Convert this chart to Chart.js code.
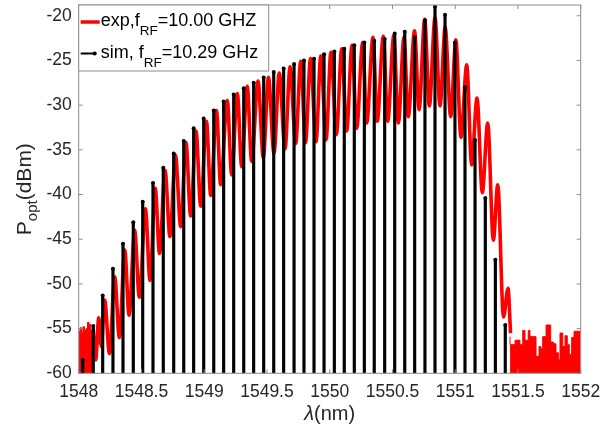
<!DOCTYPE html>
<html>
<head>
<meta charset="utf-8">
<script src="https://cdn.jsdelivr.net/npm/chart.js@4.4.1/dist/chart.umd.min.js"></script>
<style>
  html, body { margin: 0; padding: 0; background: #fff; }
  #wrap { width: 601px; height: 434px; }
</style>
</head>
<body>
<div id="wrap"><canvas id="combChart" width="601" height="434"></canvas></div>
<script>
// axis ranges and ticks
const X_MIN = 1548, X_MAX = 1552;
const Y_MIN = -60, Y_MAX = -18.8;
const xTicks = [1548, 1548.5, 1549, 1549.5, 1550, 1550.5, 1551, 1551.5, 1552];
const yTicks = [-60, -55, -50, -45, -40, -35, -30, -25, -20];

// simulated comb lines (sim, fRF = 10.29 GHz)
const simWl = [1548.032, 1548.116, 1548.191, 1548.273, 1548.353, 1548.435, 1548.510, 1548.592,
  1548.674, 1548.757, 1548.837, 1548.916, 1548.996, 1549.076, 1549.155, 1549.235, 1549.315,
  1549.394, 1549.474, 1549.554, 1549.633, 1549.716, 1549.795, 1549.875, 1549.955, 1550.037,
  1550.116, 1550.196, 1550.276, 1550.355, 1550.438, 1550.518, 1550.598, 1550.677, 1550.759,
  1550.839, 1550.919, 1550.998, 1551.078, 1551.158, 1551.240, 1551.320, 1551.399];
const simPow = [-58.5, -54.7, -51.3, -48.3, -45.5, -43.1, -40.8, -38.7, -37.0, -35.4, -34.0,
  -32.6, -31.5, -30.6, -29.6, -28.8, -28.1, -27.5, -26.9, -26.3, -25.9, -25.4, -25.0, -24.8,
  -24.3, -24.0, -23.7, -23.3, -23.0, -22.8, -22.6, -22.0, -21.8, -22.4, -20.5, -19.0, -19.9,
  -23.0, -28.0, -33.9, -40.4, -47.3, -54.6];

// measured spectrum (exp, fRF = 10.00 GHz), peaks and dips
const expWl = [1548.115, 1548.135, 1548.160, 1548.180,
  1548.207, 1548.245, 1548.287, 1548.324, 1548.367, 1548.401, 1548.446, 1548.483,
  1548.532, 1548.568, 1548.610, 1548.644, 1548.688, 1548.727, 1548.771, 1548.813,
  1548.855, 1548.892, 1548.935, 1548.972, 1549.018, 1549.052, 1549.098, 1549.131,
  1549.184, 1549.219, 1549.264, 1549.299, 1549.343, 1549.378, 1549.429, 1549.471,
  1549.512, 1549.556, 1549.598, 1549.644, 1549.684, 1549.729, 1549.769, 1549.807,
  1549.847, 1549.891, 1549.929, 1549.971, 1550.010, 1550.053, 1550.096, 1550.135,
  1550.178, 1550.215, 1550.263, 1550.295, 1550.345, 1550.379, 1550.427, 1550.462,
  1550.511, 1550.547, 1550.592, 1550.626, 1550.676, 1550.712, 1550.757, 1550.794,
  1550.839, 1550.879, 1550.920, 1550.964, 1551.005, 1551.046, 1551.092, 1551.131,
  1551.174, 1551.216, 1551.259, 1551.304, 1551.339, 1551.385, 1551.421, 1551.441];
const expPow = [-55.0, -58.5, -53.8, -57.0,
  -51.8, -57.8, -49.2, -56.0, -46.2, -53.5, -44.0, -51.5,
  -41.6, -49.6, -39.3, -46.6, -37.3, -44.7, -35.6, -43.6,
  -34.2, -42.4, -32.9, -41.3, -31.8, -40.1, -30.6, -38.9,
  -29.5, -37.8, -28.7, -36.9, -27.9, -36.3, -27.3, -35.9,
  -26.9, -35.4, -26.4, -34.9, -25.7, -34.3, -25.1, -34.2,
  -24.8, -34.1, -24.5, -33.9, -24.1, -33.3, -23.7, -32.9,
  -23.3, -32.6, -23.0, -32.0, -22.4, -31.8, -22.3, -31.8,
  -22.2, -32.0, -22.4, -31.3, -21.7, -30.5, -20.4, -30.1,
  -20.2, -30.1, -21.3, -31.3, -22.7, -33.6, -25.5, -36.7,
  -29.2, -39.8, -32.0, -45.1, -38.9, -53.7, -50.5, -55.5];

// noise floor of the measured trace, both ends
const leftNoiseWl = [1548.000, 1548.012, 1548.022, 1548.034, 1548.046, 1548.058, 1548.070,
  1548.082, 1548.094, 1548.106, 1548.118];
const leftNoisePow = [-55.0, -55.3, -54.9, -55.4, -54.8, -55.2, -55.0, -54.3, -54.5, -55.2, -55.2];
const rightNoiseWl = [1551.437, 1551.477, 1551.516, 1551.538, 1551.556, 1551.582, 1551.596,
  1551.622, 1551.644, 1551.668, 1551.681, 1551.697, 1551.724, 1551.761, 1551.782, 1551.803,
  1551.822, 1551.835, 1551.857, 1551.875, 1551.893, 1551.909, 1551.928, 1551.947, 1551.973, 1552.000];
const rightNoisePow = [-55.9, -56.8, -56.3, -56.8, -55.2, -56.3, -55.2, -55.9, -55.9, -58.1,
  -57.0, -57.2, -55.9, -54.6, -56.5, -56.7, -57.7, -58.5, -55.5, -57.0, -55.8, -56.8, -57.9,
  -56.0, -55.3, -55.3];

const FONT = '"Liberation Sans", Arial, Helvetica, sans-serif';
const AXIS_GREY = '#8c8c8c';
const TEXT_DARK = '#262626';

const toPoints = (xs, ys) => xs.map((x, i) => ({ x: x, y: ys[i] }));

// draws text pieces one after another, subscripts shifted down
function drawParts(ctx, parts, x, y, measureOnly) {
  let cx = x;
  parts.forEach(p => {
    ctx.font = (p.italic ? 'italic ' : '') + p.size + 'px ' + FONT;
    if (!measureOnly) ctx.fillText(p.t, cx, y + (p.dy || 0));
    cx += ctx.measureText(p.t).width;
  });
  return cx - x;
}

const decorPlugin = {
  id: 'matlabFrame',
  afterDraw(chart) {
    const { ctx, chartArea: a, scales: { x, y } } = chart;
    ctx.save();

    // box and inward ticks
    ctx.strokeStyle = AXIS_GREY;
    ctx.lineWidth = 1;
    ctx.beginPath();
    xTicks.forEach(v => {
      const p = x.getPixelForValue(v);
      ctx.moveTo(p, a.bottom); ctx.lineTo(p, a.bottom - 4);
      ctx.moveTo(p, a.top); ctx.lineTo(p, a.top + 4);
    });
    yTicks.forEach(v => {
      const p = y.getPixelForValue(v);
      ctx.moveTo(a.left, p); ctx.lineTo(a.left + 4, p);
      ctx.moveTo(a.right, p); ctx.lineTo(a.right - 4, p);
    });
    ctx.stroke();
    ctx.strokeRect(a.left, a.top, a.right - a.left, a.bottom - a.top);

    // legend
    const lx = a.left, ly = a.top, lw = 190, lh = 66;
    ctx.fillStyle = '#fff';
    ctx.fillRect(lx, ly, lw, lh);
    ctx.strokeStyle = AXIS_GREY;
    ctx.strokeRect(lx, ly, lw, lh);

    ctx.strokeStyle = '#ff0000';
    ctx.lineWidth = 3.5;
    ctx.beginPath(); ctx.moveTo(lx + 2, ly + 17); ctx.lineTo(lx + 21, ly + 17); ctx.stroke();
    ctx.strokeStyle = '#000';
    ctx.lineWidth = 2;
    ctx.beginPath(); ctx.moveTo(lx + 2, ly + 48.5); ctx.lineTo(lx + 16, ly + 48.5); ctx.stroke();
    ctx.fillStyle = '#000';
    ctx.beginPath(); ctx.arc(lx + 16, ly + 48.5, 2, 0, Math.PI * 2); ctx.fill();

    ctx.fillStyle = '#000';
    ctx.textAlign = 'left';
    ctx.textBaseline = 'alphabetic';
    drawParts(ctx, [
      { t: 'exp,f', size: 18 },
      { t: 'RF', size: 13.5, dy: 8.5 },
      { t: '=10.00 GHZ', size: 18 }
    ], lx + 22, ly + 21);
    drawParts(ctx, [
      { t: 'sim, f', size: 18 },
      { t: 'RF', size: 13.5, dy: 9 },
      { t: '=10.29 GHz', size: 18 }
    ], lx + 22, ly + 52.5);

    // axis titles
    ctx.fillStyle = TEXT_DARK;
    const yParts = [
      { t: 'P', size: 21 },
      { t: 'opt', size: 15, dy: 6 },
      { t: '(dBm)', size: 21 }
    ];
    ctx.save();
    ctx.translate(31, (a.top + a.bottom) / 2);
    ctx.rotate(-Math.PI / 2);
    const yw = drawParts(ctx, yParts, 0, 0, true);
    drawParts(ctx, yParts, -yw / 2, 0);
    ctx.restore();

    const xParts = [
      { t: 'λ', size: 20, italic: true },
      { t: '(nm)', size: 20 }
    ];
    const xw = drawParts(ctx, xParts, 0, 0, true);
    drawParts(ctx, xParts, (a.left + a.right) / 2 - xw / 2, 420);

    ctx.restore();
  }
};

Chart.defaults.font.family = FONT;

new Chart(document.getElementById('combChart'), {
  type: 'bar',
  data: {
    datasets: [
      {
        type: 'line',
        label: 'noise left',
        data: toPoints(leftNoiseWl, leftNoisePow),
        stepped: 'after',
        fill: 'start',
        borderColor: '#ff0000',
        backgroundColor: '#ff0000',
        borderWidth: 1,
        pointRadius: 0,
        clip: 0,
        order: 5
      },
      {
        type: 'line',
        label: 'noise right',
        data: toPoints(rightNoiseWl, rightNoisePow),
        stepped: 'after',
        fill: 'start',
        borderColor: '#ff0000',
        backgroundColor: '#ff0000',
        borderWidth: 1,
        pointRadius: 0,
        clip: 0,
        order: 5
      },
      {
        type: 'line',
        label: 'exp',
        data: toPoints(expWl, expPow),
        borderColor: '#ff0000',
        borderWidth: 3.6,
        pointRadius: 0,
        cubicInterpolationMode: 'monotone',
        fill: false,
        clip: 0,
        order: 4
      },
      {
        type: 'bar',
        label: 'sim',
        data: toPoints(simWl, simPow),
        base: Y_MIN,
        backgroundColor: '#000',
        barThickness: 2.5,
        order: 2
      },
      {
        type: 'line',
        label: 'sim tops',
        data: toPoints(simWl, simPow),
        showLine: false,
        pointRadius: 2,
        pointBackgroundColor: '#000',
        pointBorderWidth: 0,
        order: 1
      }
    ]
  },
  options: {
    responsive: false,
    animation: false,
    devicePixelRatio: 1,
    layout: { autoPadding: false, padding: { top: 5, right: 20.3, left: 0, bottom: 0 } },
    plugins: {
      legend: { display: false },
      tooltip: { enabled: false }
    },
    scales: {
      x: {
        type: 'linear',
        min: X_MIN,
        max: X_MAX,
        offset: false,
        grid: { display: false, drawTicks: false, offset: false },
        border: { display: false },
        afterBuildTicks: s => { s.ticks = xTicks.map(v => ({ value: v })); },
        afterFit: s => { s.height = 60.7; s.paddingLeft = 0; s.paddingRight = 0; },
        ticks: {
          padding: 8,
          maxRotation: 0,
          autoSkip: false,
          color: TEXT_DARK,
          font: { size: 17.5 },
          callback: v => String(v)
        }
      },
      y: {
        type: 'linear',
        min: Y_MIN,
        max: Y_MAX,
        grid: { display: false, drawTicks: false },
        border: { display: false },
        afterBuildTicks: s => { s.ticks = yTicks.map(v => ({ value: v })); },
        afterFit: s => { s.width = 78.7; s.paddingTop = 0; s.paddingBottom = 0; },
        ticks: {
          padding: 7,
          autoSkip: false,
          color: TEXT_DARK,
          font: { size: 17.5 },
          callback: v => String(v)
        }
      }
    }
  },
  plugins: [decorPlugin]
});
</script>
</body>
</html>
